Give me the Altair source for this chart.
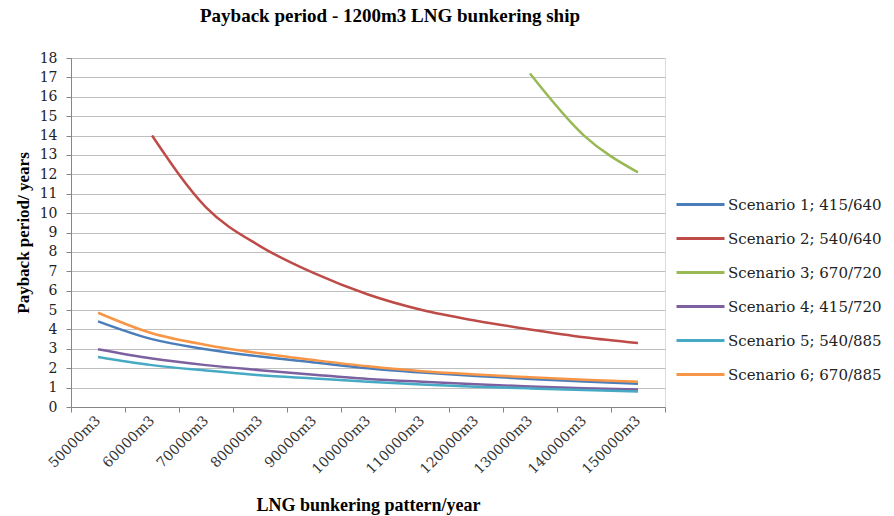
import altair as alt
import pandas as pd

# LNG bunkering volume per year (categories on the x axis)
patterns = [
    "50000m3", "60000m3", "70000m3", "80000m3", "90000m3", "100000m3",
    "110000m3", "120000m3", "130000m3", "140000m3", "150000m3",
]

scenario_names = [
    "Scenario 1; 415/640",
    "Scenario 2; 540/640",
    "Scenario 3; 670/720",
    "Scenario 4; 415/720",
    "Scenario 5; 540/885",
    "Scenario 6; 670/885",
]

# Payback period in years for each pattern (None = not shown)
scenario_1 = [4.42, 3.50, 2.98, 2.60, 2.30, 2.00, 1.78, 1.60, 1.45, 1.32, 1.20]
scenario_2 = [None, 14.0, 10.3, 8.30, 6.90, 5.80, 5.00, 4.45, 4.00, 3.60, 3.30]
scenario_3 = [None, None, None, None, None, None, None, None, 17.2, 14.0, 12.1]
scenario_4 = [2.98, 2.50, 2.16, 1.90, 1.66, 1.45, 1.30, 1.17, 1.06, 0.97, 0.90]
scenario_5 = [2.58, 2.16, 1.88, 1.64, 1.47, 1.30, 1.16, 1.05, 0.96, 0.88, 0.80]
scenario_6 = [4.86, 3.80, 3.20, 2.77, 2.42, 2.10, 1.85, 1.68, 1.53, 1.40, 1.30]

series = [scenario_1, scenario_2, scenario_3, scenario_4, scenario_5, scenario_6]
colors = ["#4A7EBB", "#BE4B48", "#98B954", "#7D60A0", "#46AAC5", "#F79646"]

rows = []
for name, values in zip(scenario_names, series):
    for pattern, value in zip(patterns, values):
        if value is not None:
            rows.append({"pattern": pattern, "payback": value, "scenario": name})
df = pd.DataFrame(rows)

bold_serif = "Liberation Serif"
text_serif = "DejaVu Serif"

chart = (
    alt.Chart(df)
    .mark_line(strokeWidth=2.5, interpolate="monotone")
    .encode(
        x=alt.X(
            "pattern:N",
            sort=patterns,
            scale=alt.Scale(type="band", domain=patterns, paddingInner=0, paddingOuter=0),
            axis=alt.Axis(
                title="LNG bunkering pattern/year",
                titleFont=bold_serif,
                titleFontSize=18,
                titleFontWeight="bold",
                titleColor="black",
                titlePadding=20,
                labelFont=text_serif,
                labelFontSize=14,
                labelColor="#333333",
                labelAngle=-45,
                labelAlign="right",
                labelBaseline="middle",
                labelPadding=6,
                tickBand="extent",
                tickSize=5,
                tickColor="#868686",
                domainColor="#868686",
                grid=False,
            ),
        ),
        y=alt.Y(
            "payback:Q",
            scale=alt.Scale(domain=[0, 18], nice=False),
            axis=alt.Axis(
                title="Payback period/ years",
                titleFont=bold_serif,
                titleFontSize=17,
                titleFontWeight="bold",
                titleColor="black",
                titlePadding=7,
                values=list(range(19)),
                format="d",
                labelFont=text_serif,
                labelFontSize=14,
                labelColor="#222222",
                labelPadding=9,
                tickSize=5,
                tickColor="#868686",
                domainColor="#868686",
                grid=True,
                gridColor="#BFBFBF",
                gridWidth=1,
            ),
        ),
        color=alt.Color(
            "scenario:N",
            sort=scenario_names,
            scale=alt.Scale(domain=scenario_names, range=colors),
            legend=alt.Legend(
                title=None,
                orient="none",
                legendX=604,
                legendY=121,
                symbolType="stroke",
                symbolSize=2304,
                symbolStrokeWidth=3,
                labelFont=text_serif,
                labelFontSize=15,
                labelLimit=300,
                labelColor="#222222",
                labelOffset=2,
                rowPadding=-3,
            ),
        ),
    )
    .properties(
        width=594,
        height=349,
        title=alt.Title(
            "Payback period - 1200m3 LNG bunkering ship",
            font=bold_serif,
            fontSize=19,
            fontWeight="bold",
            color="black",
            anchor="middle",
            dx=22,
            offset=25,
        ),
        padding={"left": 71, "top": 58, "right": 229, "bottom": 109},
        autosize=alt.AutoSizeParams(type="none"),
    )
    .configure_view(stroke=None)
    .configure(background="white", font=text_serif)
)

chart.save("out.html", embed_options={"renderer": "svg", "actions": False})
